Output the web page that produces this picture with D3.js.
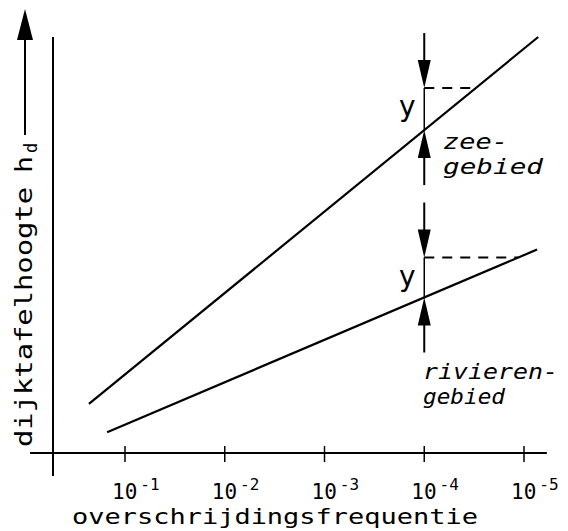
<!DOCTYPE html>
<html><head><meta charset="utf-8">
<script src="https://cdn.jsdelivr.net/npm/d3@7"></script>
<style>html,body{margin:0;padding:0;background:#fff;}</style>
</head><body>
<svg id="c" width="568" height="531"></svg>
<script>
// ---- data ----
const tickFreqs = [1e-1, 1e-2, 1e-3, 1e-4, 1e-5];
const tickExponents = ["-1", "-2", "-3", "-4", "-5"];
const zeeFreq = [0.23, 7.2e-6];
const zeeHeight = [11.8, 100];
const rivierFreq = [0.151, 7.4e-6];
const rivierHeight = [5.0, 48.9];
const refFreq = 1e-4;          // overschrijdingsfrequentie waarbij y is uitgezet
const yMargins = [10.1, 9.6];  // y (zee, rivieren)
const axisFreqRange = [0.895, 5.9e-6];
const axisHeightRange = [-5.5, 100];
const yAxisFreq = 0.527;

// ---- scales ----
const svg = d3.select("#c");
const x = d3.scaleLog().domain([1e-1, 1e-5]).range([125, 524]);
const y = d3.scaleLinear().domain([0, 100]).range([453, 37]);
const mono = "'DejaVu Sans Mono', monospace";

// axes
svg.append("line").attr("x1", x(axisFreqRange[0])).attr("x2", x(axisFreqRange[1]))
  .attr("y1", y(0)).attr("y2", y(0)).attr("stroke", "#000").attr("stroke-width", 2);
svg.append("line").attr("x1", x(yAxisFreq)).attr("x2", x(yAxisFreq))
  .attr("y1", y(axisHeightRange[0])).attr("y2", y(axisHeightRange[1]))
  .attr("stroke", "#000").attr("stroke-width", 2);

const ticks = svg.append("g");
tickFreqs.forEach((f, i) => {
  ticks.append("line").attr("x1", x(f)).attr("x2", x(f)).attr("y1", y(0) - 7).attr("y2", y(0) + 9)
    .attr("stroke", "#000").attr("stroke-width", 1.5);
  const t = ticks.append("text").attr("x", x(f) - 13).attr("y", 499)
    .attr("font-family", mono).attr("font-size", 21);
  t.append("tspan").text("10");
  t.append("tspan").attr("dx", 3).attr("dy", -9).attr("font-size", 16).text(tickExponents[i]);
});

svg.append("text").attr("x", 72).attr("y", 524).attr("font-family", mono).attr("font-size", 22)
  .attr("textLength", 406).attr("lengthAdjust", "spacingAndGlyphs").text("overschrijdingsfrequentie");

// y label (rotated) with arrow
const yl = svg.append("g").attr("transform", "translate(32,447) rotate(-90)");
yl.append("text").attr("x", 0).attr("y", 0).attr("font-family", mono).attr("font-size", 23)
  .attr("textLength", 260).attr("lengthAdjust", "spacingAndGlyphs").text("dijktafelhoogte");
yl.append("text").attr("x", 274).attr("y", 0).attr("font-family", mono).attr("font-size", 23)
  .attr("textLength", 17).attr("lengthAdjust", "spacingAndGlyphs").text("h");
yl.append("text").attr("x", 294).attr("y", 5).attr("font-family", mono).attr("font-size", 17).text("d");
svg.append("line").attr("x1", 25).attr("x2", 25).attr("y1", 135).attr("y2", 38)
  .attr("stroke", "#000").attr("stroke-width", 2);
svg.append("path").attr("d", "M25,9 L17,40 L33,40 Z").attr("fill", "#000");

// lines
const line = d3.line().x(d => x(d[0])).y(d => y(d[1]));
const series = [
  {f: zeeFreq, h: zeeHeight},
  {f: rivierFreq, h: rivierHeight}
];
const arrowPx = 55, headH = 28, headW = 13;
series.forEach((s, i) => {
  const pts = s.f.map((f, j) => [f, s.h[j]]);
  svg.append("path").attr("d", line(pts)).attr("fill", "none").attr("stroke", "#000").attr("stroke-width", 2.2);
  const l0 = Math.log10(s.f[0]), l1 = Math.log10(s.f[1]);
  const t = (Math.log10(refFreq) - l0) / (l1 - l0);
  const hRef = s.h[0] + t * (s.h[1] - s.h[0]);
  const hDash = hRef + yMargins[i];
  const tD = (hDash - s.h[0]) / (s.h[1] - s.h[0]);
  const fDash = Math.pow(10, l0 + tD * (l1 - l0));
  const xr = x(refFreq);
  svg.append("line").attr("x1", xr).attr("x2", x(fDash)).attr("y1", y(hDash)).attr("y2", y(hDash))
    .attr("stroke", "#000").attr("stroke-width", 2).attr("stroke-dasharray", "10,8");
  const yD = y(hDash), yR = y(hRef);
  svg.append("line").attr("x1", xr).attr("x2", xr).attr("y1", yD - arrowPx).attr("y2", yD - headH + 2)
    .attr("stroke", "#000").attr("stroke-width", 2);
  svg.append("path").attr("d", `M${xr},${yD} L${xr - headW / 2},${yD - headH} L${xr + headW / 2},${yD - headH} Z`).attr("fill", "#000");
  svg.append("line").attr("x1", xr).attr("x2", xr).attr("y1", yR + arrowPx).attr("y2", yR + headH - 2)
    .attr("stroke", "#000").attr("stroke-width", 2);
  svg.append("path").attr("d", `M${xr},${yR} L${xr - headW / 2},${yR + headH} L${xr + headW / 2},${yR + headH} Z`).attr("fill", "#000");
  svg.append("line").attr("x1", xr).attr("x2", xr).attr("y1", yD).attr("y2", yR)
    .attr("stroke", "#000").attr("stroke-width", 1.5);
  svg.append("text").attr("x", xr - 17).attr("y", yD + 28).attr("text-anchor", "middle")
    .attr("font-family", "'DejaVu Sans', sans-serif").attr("font-size", 28).text("y");
});

// labels
const lab = (txt, px, py, len) => svg.append("text").attr("x", px).attr("y", py)
  .attr("font-family", mono).attr("font-style", "italic").attr("font-size", 21)
  .attr("textLength", len).attr("lengthAdjust", "spacingAndGlyphs").text(txt);
lab("zee-", 443, 149, 65);
lab("gebied", 443, 174, 100);
lab("rivieren-", 423, 379, 135);
lab("gebied", 423, 404, 82);
</script>
</body></html>
